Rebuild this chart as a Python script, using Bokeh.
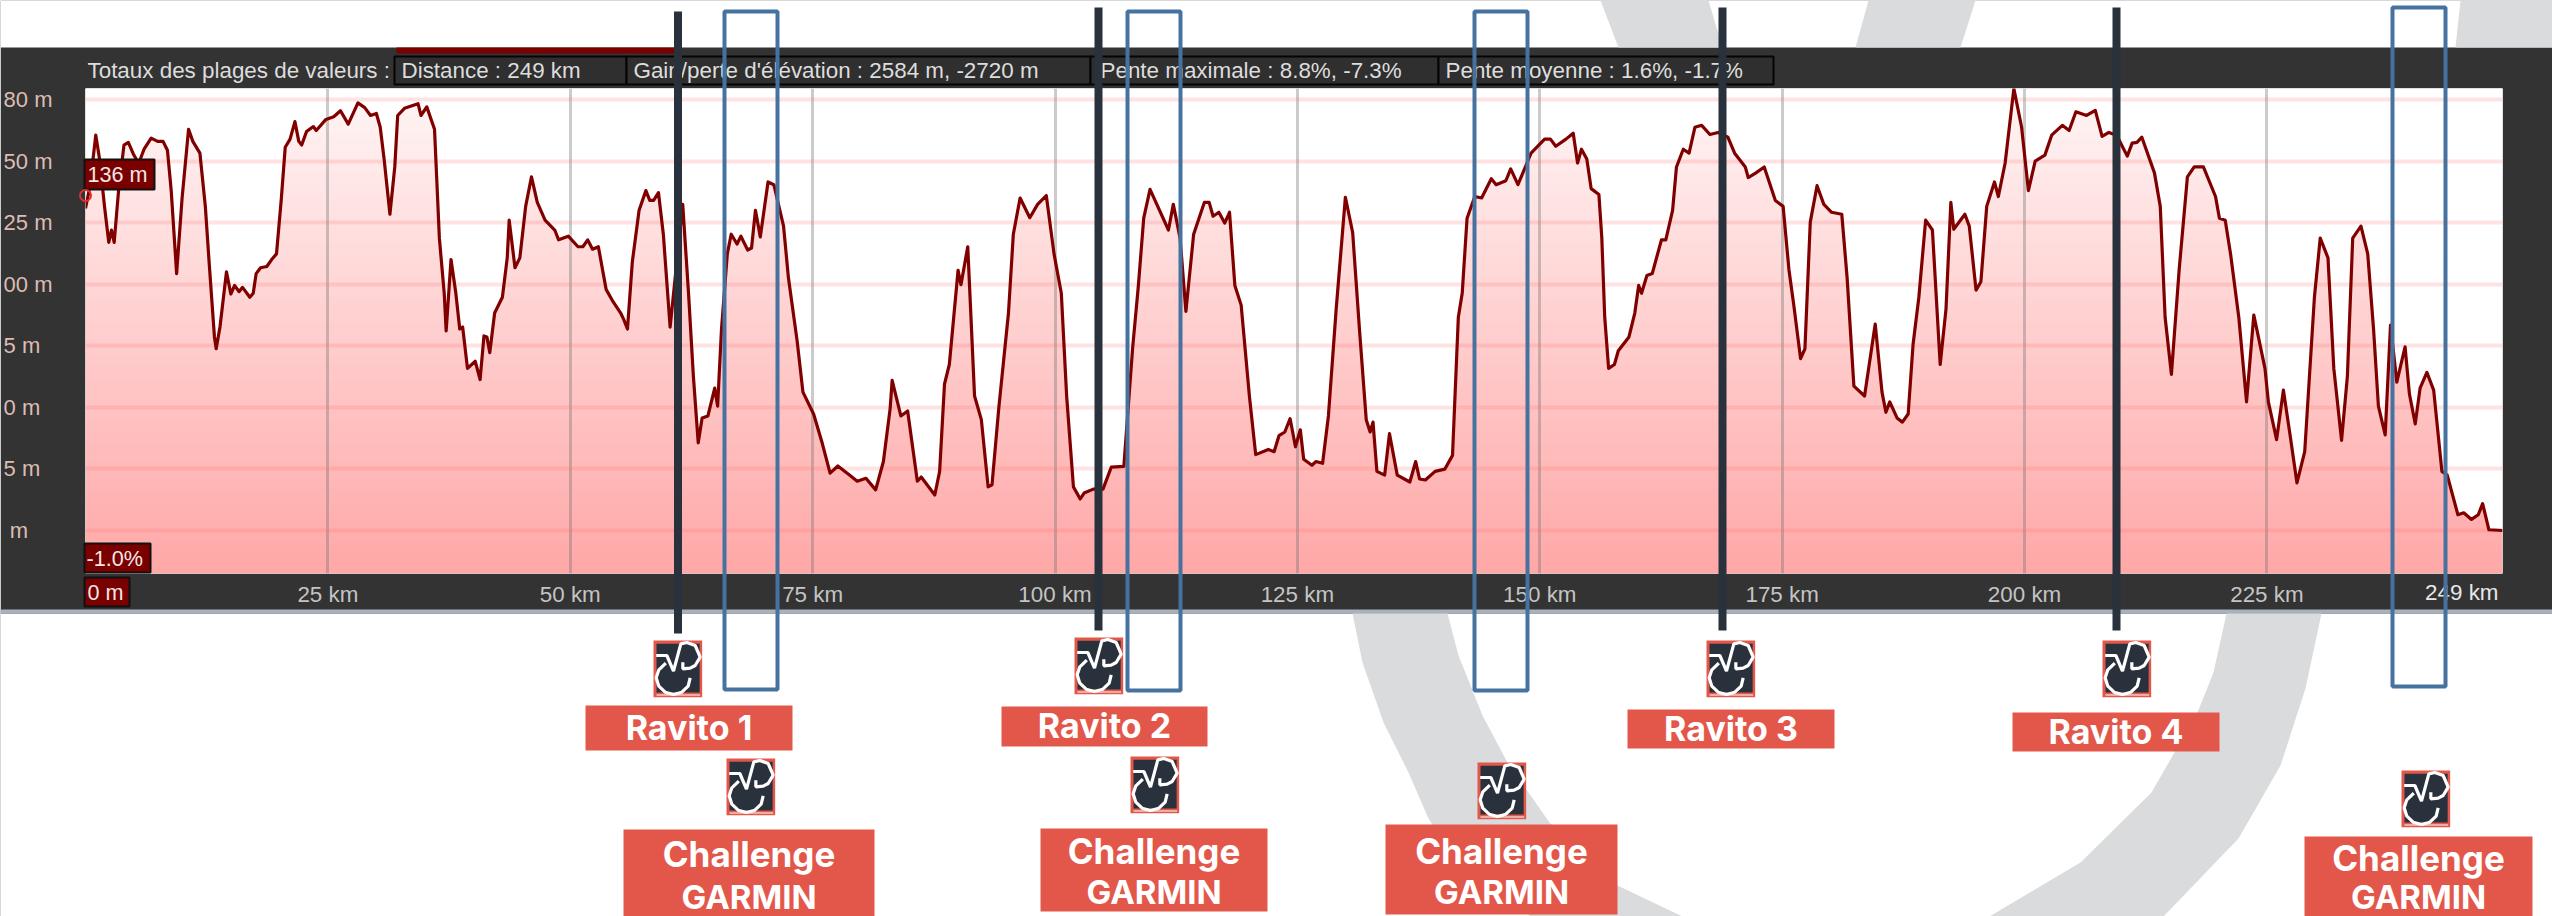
import numpy as np
from bokeh.core.properties import value
from bokeh.embed import file_html
from bokeh.models import FixedTicker, Range1d
from bokeh.plotting import figure
from bokeh.resources import INLINE

# ---------- data ----------
distance_km = [0,0.45,1.06,1.45,1.96,2.4,2.68,2.96,3.41,3.97,4.42,4.92,5.48,6.04,6.77,7.44,8,8.45,8.84,9.4,9.96,10.63,11.07,11.8,12.36,12.75,13.3,13.48,13.87,14.54,14.99,15.38,15.83,16.2,16.95,17.3,17.6,18.06,18.7,19.2,19.7,20.2,20.6,21.1,21.6,22,22.3,22.8,23.5,23.8,24.8,25.6,26.3,27.1,28.1,28.8,29.4,30,30.4,30.8,31.4,31.9,32.2,32.9,34.3,34.6,35.2,36,36.5,37,37.2,37.7,38.2,38.6,38.9,39.4,40.2,40.7,41.1,41.4,41.7,42.2,43,43.5,43.7,44.3,44.8,45.4,46,46.6,47.4,48.4,48.8,49.8,50.8,51.3,51.8,52.3,52.9,53.7,54.4,55.2,55.5,55.9,56.4,57.1,57.8,58.2,58.6,59.1,59.6,60.3,61.6,62.2,62.7,63.2,63.6,64.2,64.9,65.2,65.6,66.2,66.6,67.2,67.6,68.3,68.7,69.1,69.6,70.4,71,72,72.5,73.4,74,75.1,76,76.8,77.6,78.8,
79.6,80.5,81.5,82.3,83,83.2,84.1,84.8,85.8,86.2,87.6,88.1,88.6,89.1,90,90.3,91,91.7,92.4,93.1,93.5,94.2,95.2,95.7,96.4,97.4,98.2,99.1,99.9,100.65,101.2,101.9,102.6,103,103.95,104.95,105.8,107.1,108,108.6,109.15,109.8,111.7,112.2,112.9,113.5,114.3,115.4,115.9,116.3,116.9,117.5,118,118.55,119.2,120.05,120.7,122,122.6,123.1,123.7,124.25,124.8,125.3,125.65,126.5,126.9,127.6,128.2,129,129.95,130.7,131.4,132.1,132.5,132.8,133.2,134,134.5,135.3,136.6,137.2,137.6,138.2,139.2,140.2,141,141.6,142,142.5,143.3,144,145,145.5,146.5,147,147.75,149.1,150.5,151.1,151.65,152.7,153.45,153.9,154.3,154.85,155.3,156.1,156.4,156.7,157.1,157.7,158.1,159.2,159.8,160.2,160.5,161.05,161.6,162.55,163,163.7,164.1,164.8,165.4,166,
166.7,167.55,168.4,169.4,170.1,171.2,171.5,172.3,173.15,174.3,175.1,175.7,176.2,176.9,177.35,177.9,178.6,179.3,180.1,181.15,181.7,182.4,183.5,184.6,185.3,185.7,186.1,186.85,187.4,188,188.5,189.1,189.8,190.5,191.3,191.9,192.4,192.7,193.85,194.3,195,195.5,196.1,196.9,197.3,198,198.9,199.7,200.4,201.1,202.1,202.8,203.9,204.6,205.3,206.4,207.3,208,208.7,209.5,210.6,211.1,211.6,212.1,213.4,214,214.5,215.15,215.95,216.8,217.5,218.45,219.7,220.1,220.7,221.25,222.1,222.9,223.65,224.8,225.15,226,226.7,227.4,228.1,228.9,229.9,230.5,231.3,231.9,232.7,233.3,233.85,234.7,235.4,236,236.5,237.2,237.75,238.4,239.25,239.7,240.3,240.8,241.5,242.2,243.05,243.6,244.7,245.3,246.1,246.8,247.25,247.9,249.3]
elevation_m = [130.8,139.6,160.5,150.8,131.6,117,122,117,138,156.5,157.6,153,149,154.8,159.3,158,158,154.4,138,104.3,134.8,162.9,158,153.2,131.6,109,78.6,73.8,82.6,105,96,99.5,97,98.7,94.7,96.3,104.3,106.7,107.2,110,112.3,134.8,155.6,158.9,166,158,156.5,162,164,162.4,166.9,168,170.4,165,173.6,171.7,168.5,169.3,163.7,150.8,128.4,147.6,168.5,171.4,173.3,168.5,172,162.9,118.7,96.3,81,110,96.3,81.8,82.6,65.8,68.7,61.3,79,78.6,72.2,88.3,94.7,110.7,126,106.7,110.7,131.6,143.6,133.2,126,122,118,119.5,115.2,115.2,118,114.2,115.2,97.9,93,88.3,85.8,81.8,109,130,138,134,134,137.2,120.3,82.6,132.4,96.3,62.6,35.6,45.7,46.5,57.8,50.5,81.8,112.3,120.3,116.3,119.5,113.9,114.7,130,119.2,141.5,140.4,123.6,102.7,77,56.2,47.3,35.3,23.3,26.2,22.5,
20,21.2,16.5,28,49.7,61,46.5,48.5,20,21.7,14.4,24,59.4,67.4,105.6,99.8,115.2,54.6,45,17.7,18.5,49.7,88.3,120.3,135,127,132.4,136,112.3,96.3,54.6,17.7,12.8,15.2,16.8,16.8,25.7,26,73.8,99.5,126.8,138.5,122,132.4,118.7,89,120.3,133.2,133.2,127.6,129.2,124.8,129.2,99.5,91.5,54.6,30.8,32.9,32,38.5,40,45.4,34,40.9,28.9,26.5,28,27.3,46.5,89.9,135.3,121,81.8,45,40,44,24,22.5,39.3,22.5,19.7,28,20.9,20.5,24,24.9,30.5,86.6,96.3,126.8,135.6,135,142.8,140.4,142,146.8,140.4,153.2,158.9,158.9,156,158.9,161.3,149.2,154.8,150.8,138.8,136.4,118.7,86.6,65.8,67.4,73,78.6,88.3,99.5,96.3,103.5,104.3,118,118,130,147.6,154.8,153.2,163.7,
164.5,160.8,161.6,159.7,153.2,147.6,143.3,145.2,147.6,134,131.6,105.9,91.5,69.8,73.8,125.2,140,132.4,129.2,128.4,102.7,58.6,54.6,83.8,56.2,48,52.2,45.7,44,47.3,75.4,94.7,126,122,67.4,89.9,133.2,122.3,128.4,123.6,97.6,101,131.6,141.5,135.6,149.2,179.4,163.7,138,150,152.4,160.5,164.5,162.4,170,168.5,170.6,160,161.6,160.5,152,157.3,157.6,159.7,145.2,131.6,86.6,63.4,105.9,143.6,147.6,147.6,135.6,126.8,126,112.3,86.6,52.2,87.5,65.8,52.2,36.9,57,38.5,19.3,32,94.7,118.7,110.7,65.8,36.6,62.6,118.7,123.6,112.3,81.8,50.5,38.8,83.4,60.2,74.6,55.4,43.3,57.8,64.2,57,24,22.5,6.4,7.2,4.5,6.4,10.9,0.3,0]
y_ticks = [0, 25, 50, 75, 100, 125, 150, 175]
y_labels = ["m\u00a0\u00a0\u00a0\u00a0", "5 m\u00a0\u00a0", "0 m\u00a0\u00a0", "5 m\u00a0\u00a0", "00 m", "25 m", "50 m", "80 m"]
x_ticks = [25, 50, 75, 100, 125, 150, 175, 200, 225]
x_labels = ["25 km", "50 km", "75 km", "100 km", "125 km", "150 km", "175 km", "200 km", "225 km"]
totals_title = "Totaux des plages de valeurs :"
totals = ["Distance : 249 km", "Gain/perte d'élévation : 2584 m, -2720 m", "Pente maximale : 8.8%, -7.3%", "Pente moyenne : 1.6%, -1.7%"]
ravitos = ["Ravito 1", "Ravito 2", "Ravito 3", "Ravito 4"]

W, H = 2552, 916
FL, FR, FT, FB = 85, 2502, 88, 573
KM_MAX = 249.3
PX_M = 2.463
Y0 = 530
Y_MIN, Y_MAX = (Y0 - FB) / PX_M, (Y0 - FT) / PX_M
PANEL = "#333333"
FONT = "Liberation Sans"
AT_ORIGIN = {"position": "absolute", "left": "0px", "top": "0px"}

# ---------- the chart itself, with its axes ----------
chart = figure(width=W, height=H, output_backend="svg", toolbar_location=None,
               x_range=Range1d(0, KM_MAX), y_range=Range1d(Y_MIN, Y_MAX),
               min_border_left=FL, min_border_right=W - FR, min_border_top=FT, min_border_bottom=H - FB,
               border_fill_color=PANEL, background_fill_color="white", outline_line_color=None,
               styles=AT_ORIGIN)

N = 200
ramp = np.zeros((N, 1), dtype=np.uint32)
view = ramp.view(np.uint8).reshape((N, 1, 4))
shade = np.linspace(0, 1, N)
view[:, 0, 0] = 255
view[:, 0, 1] = (168 + (246 - 168) * shade).astype(np.uint8)
view[:, 0, 2] = (168 + (246 - 168) * shade).astype(np.uint8)
view[:, 0, 3] = 255
chart.image_rgba(image=[ramp], x=0, y=Y_MIN, dw=KM_MAX, dh=Y_MAX - Y_MIN, level="image")
chart.varea(x=distance_km, y1=elevation_m, y2=[Y_MAX] * len(elevation_m), fill_color="white", level="image")

chart.xaxis.ticker = FixedTicker(ticks=x_ticks)
chart.xaxis.major_label_overrides = dict(zip(x_ticks, x_labels))
chart.yaxis.ticker = FixedTicker(ticks=y_ticks)
chart.yaxis.major_label_overrides = dict(zip(y_ticks, y_labels))
for ax, col, so, fs in ((chart.xaxis, "#c4c4c4", 8, "22.4px"), (chart.yaxis, "#dcbcb4", 33, "22px")):
    ax.axis_line_color = None
    ax.major_tick_line_color = None
    ax.minor_tick_line_color = None
    ax.major_tick_in = 0
    ax.major_tick_out = 0
    ax.minor_tick_in = 0
    ax.minor_tick_out = 0
    ax.major_label_text_font = FONT
    ax.major_label_text_font_size = fs
    ax.major_label_text_color = col
    ax.major_label_standoff = so
chart.xgrid.ticker = FixedTicker(ticks=x_ticks)
chart.ygrid.ticker = FixedTicker(ticks=y_ticks)
chart.xgrid.grid_line_color = "#707070"
chart.xgrid.grid_line_alpha = 0.36
chart.xgrid.grid_line_width = 3
chart.ygrid.grid_line_color = "#ff7070"
chart.ygrid.grid_line_alpha = 0.2
chart.ygrid.grid_line_width = 4
chart.line(distance_km, elevation_m, line_color="#800000", line_width=3.2, line_join="round")

# ---------- the layer of notes laid over it, in picture pixels ----------
notes = figure(width=W, height=H, output_backend="svg", toolbar_location=None,
               x_range=Range1d(0, W), y_range=Range1d(H, 0),
               x_axis_location=None, y_axis_location=None, min_border=0,
               border_fill_alpha=0, background_fill_alpha=0, outline_line_color=None,
               styles=AT_ORIGIN)
notes.grid.visible = False


def box(l, r, t, b, color, line=None, lw=0):
    notes.quad(left=[l], right=[r], top=[t], bottom=[b], fill_color=color, line_color=line, line_width=lw)


def poly(pts, color):
    notes.patch([a for a, _ in pts], [b for _, b in pts], fill_color=color, line_color=None)


def label(x, y, text, size, color, align="left", font=FONT, style="normal"):
    notes.text([x], [y], text=[text], text_font_size=value(f"{size}px"), text_color=color, text_align=align,
               text_baseline="middle", text_font=value(font), text_font_style=style)


# white page above and below the panel
box(0, W, 0, 47, "white")
box(0, W, 613, H, "white")
box(0, W, 609, 613, "#a9b1bf")
box(396, 675, 47, 53, "#7a0000")

GREY = "#dadbdc"
poly([(1600, 0), (1708, 0), (1722, 47), (1618, 47)], GREY)
poly([(1868, 0), (1975, 0), (1960, 47), (1855, 47)], GREY)
poly([(2460, 0), (2552, 0), (2552, 47), (2455, 47)], GREY)
poly([(1352, 613), (1362, 662), (1383, 722), (1408, 772), (1428, 818), (1445, 845), (1530, 916), (1682, 916),
      (1617, 885), (1549, 822), (1507, 762), (1482, 715), (1458, 655), (1447, 613)], GREY)
poly([(2321, 613), (2305, 688), (2280, 765), (2238, 838), (2163, 916), (1989, 916), (2080, 862), (2151, 792),
      (2197, 712), (2213, 672), (2226, 613)], GREY)

# totals strip
label(87, 70, totals_title, 22.4, "#dddddd")
edges = [394, 626, 1090, 1438, 1773]
starts = [401, 633, 1100, 1445]
for i, txt in enumerate(totals):
    box(edges[i], edges[i + 1], 56, 84, "#2f2f2f", "#050505", 2)
    label(starts[i], 70, txt, 22.4, "#dddddd")

# tags
DARKRED = "#7a0000"
box(84, 154, 159, 189, DARKRED, "#111111", 2)
label(87, 174, "136 m", 21.6, "#f2e6e6")
box(84, 150, 543, 572, DARKRED, "#111111", 2)
label(86, 558, "-1.0%", 21.6, "#f2e6e6")
box(84, 129, 577, 606, DARKRED, "#111111", 2)
label(87, 592, "0 m", 21.6, "#f2e6e6")
label(2498, 592, "249 km", 22.4, "#e8e8e8", "right")
notes.scatter([85], [195], size=11, marker="circle", fill_alpha=0, line_color="#e03030", line_width=2)

# ravito bars
NAVY = "#29323c"
for x, y_top, y_bot in ((677.5, 11, 633), (1098, 7, 630), (1722, 7, 630), (2116, 7, 630)):
    box(x - 4, x + 4, y_top, y_bot, NAVY)

# challenge frames
BLUE = "#4672a0"
for l, r, t, b in ((722, 779, 9, 691), (1125, 1182, 9, 692), (1472, 1529, 9, 692), (2390, 2447, 5, 688)):
    notes.quad(left=[l + 2], right=[r - 2], top=[t + 2], bottom=[b - 2], fill_alpha=0, line_color=BLUE, line_width=4)

RED = "#e3574a"
UP = [(8, 45), (40, 45), (60, 92), (82, 10), (100, 6), (125, 15), (140, 50), (125, 75), (110, 83), (88, 85), (88, 65)]
ARC = [(37, 68), (16, 88), (8, 112), (16, 137), (35, 155), (60, 162), (85, 155), (104, 137), (110, 112)]


def logo(l, t):
    w, h = 146 / 3, 170 / 3
    box(l, l + w, t, t + h, RED)
    box(l + 3, l + w - 2.5, t + 3.3, t + 52, NAVY)
    box(l + 3, l + w - 2, t + 54, t + 55, "white")
    for path in (UP, ARC):
        notes.line([l + a / 3 for a, _ in path], [t + b / 3 for _, b in path], line_color="white", line_width=3.2)


for l, t in ((653, 640), (1074, 637), (1706, 640), (2102, 640), (726, 758), (1130, 756), (1477, 762), (2401, 770)):
    logo(l, t)

TXT = "Inter"
for name, (l, r, t, b) in zip(ravitos, ((585, 792, 705, 750), (1001, 1207, 706, 746), (1627, 1834, 709, 748), (2012, 2219, 712, 751))):
    box(l, r, t, b, RED)
    label((l + r) / 2, (t + b) / 2 - 1, name, 34, "white", "center", TXT, "bold")

for (l, r, t, b), (y1, y2) in zip(((623, 874, 829, 916), (1040, 1267, 828, 911), (1385, 1617, 824, 914), (2304, 2532, 836, 916)),
                                  ((853, 896), (850, 891), (850, 891), (857, 896))):
    box(l, r, t, b, RED)
    cx = (l + r) / 2
    label(cx, y1, "Challenge", 35, "white", "center", TXT, "bold")
    label(cx, y2, "GARMIN", 33, "white", "center", TXT, "bold")

p = [chart, notes]
open("out.html", "w").write(file_html(p, INLINE))
